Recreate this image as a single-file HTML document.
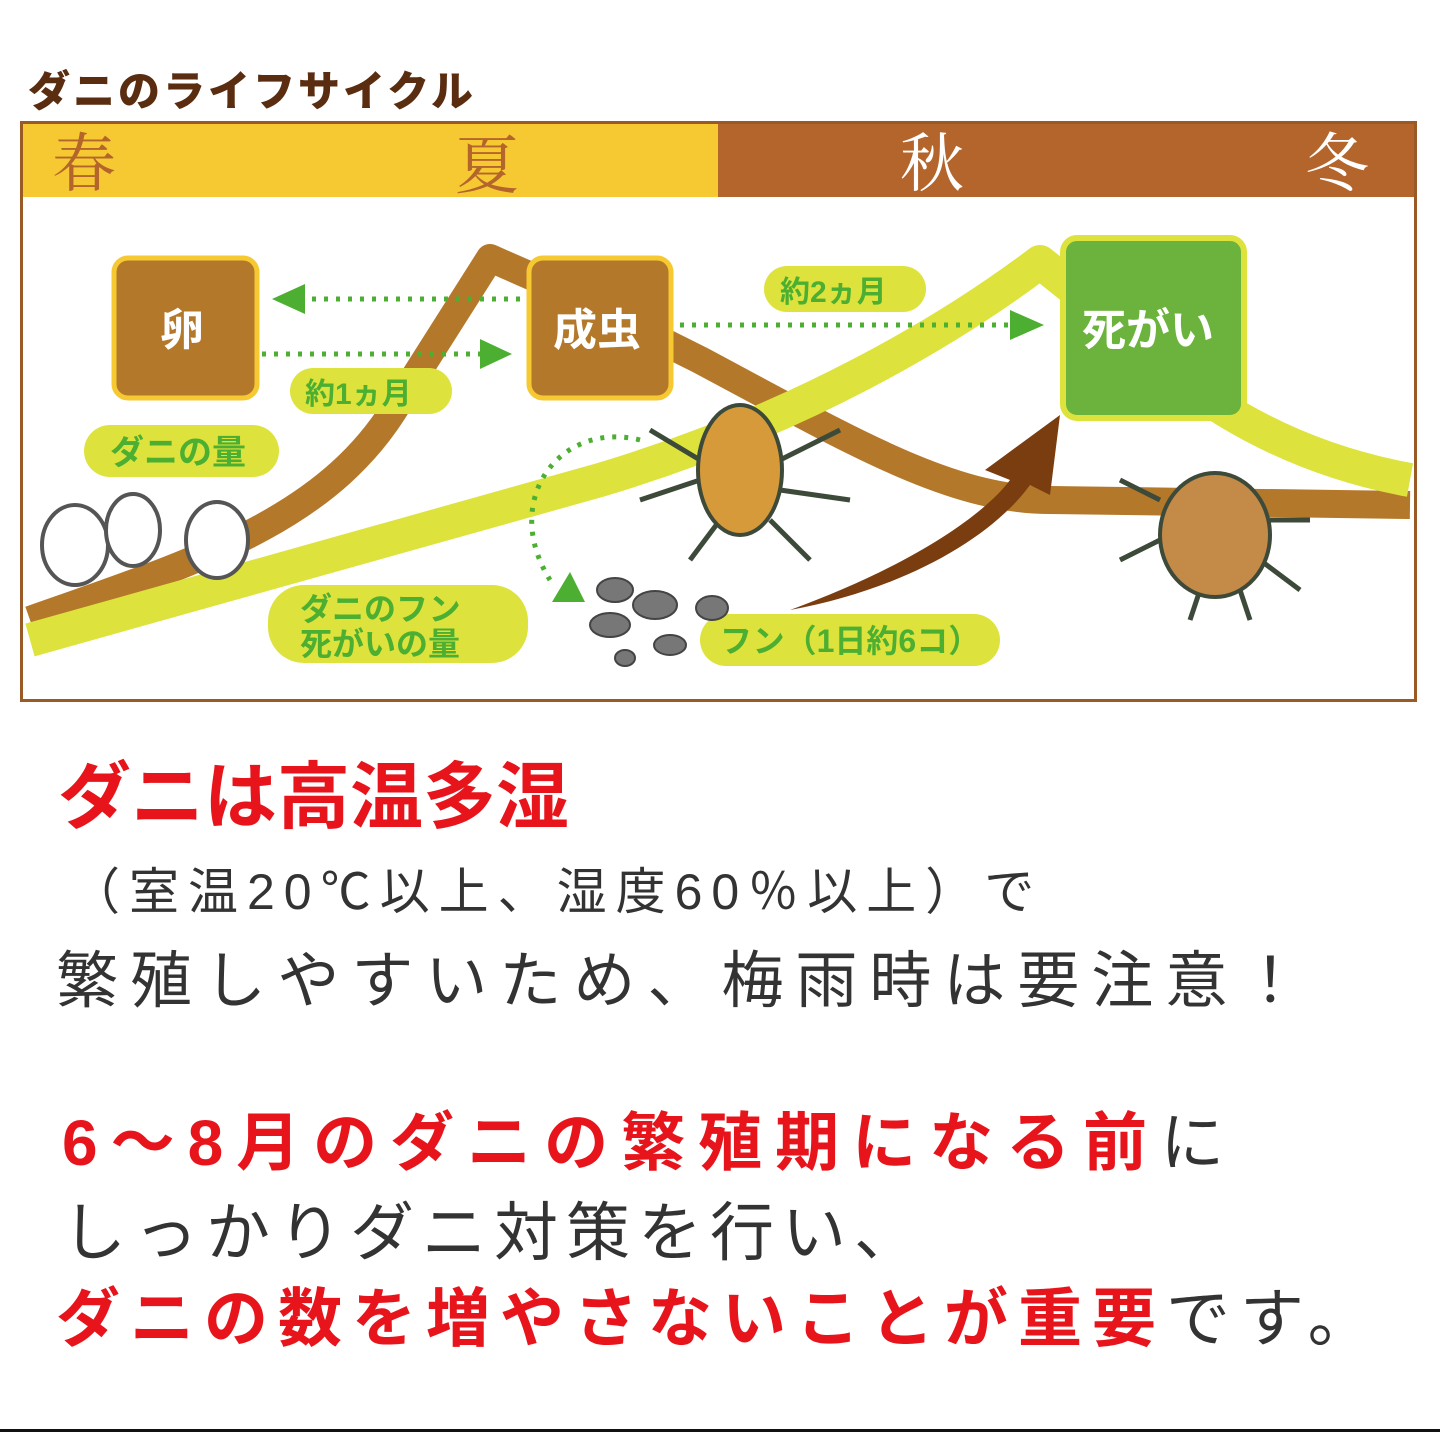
<!DOCTYPE html>
<html><head><meta charset="utf-8"><style>
body{margin:0;width:1440px;height:1432px;background:#fff;position:relative;overflow:hidden;font-family:"Liberation Sans","Noto Sans CJK JP",sans-serif}
.a{position:absolute;white-space:nowrap}
.r{color:#e8141c;font-weight:bold}
.k{color:#333}
</style></head><body>
<div class="a" style="left:28px;top:58px;font-size:42px;font-weight:900;color:#5a2d10;letter-spacing:3px">ダニのライフサイクル</div>
<svg class="a" style="left:0;top:0" width="1440" height="720">
<rect x="21.5" y="122.5" width="1394" height="578" fill="#fff" stroke="#9a5a25" stroke-width="3"/>
<rect x="23" y="124" width="695" height="73" fill="#f6c932"/>
<rect x="718" y="124" width="696" height="73" fill="#b4652c"/>
<g font-family="Liberation Serif,Noto Serif CJK SC,serif" font-size="64">
<text x="52" y="186" fill="#b4652c">春</text><text x="455" y="188" fill="#b4652c">夏</text>
<text x="900" y="186" fill="#fff">秋</text><text x="1305" y="186" fill="#fff">冬</text></g>
<path d="M30 620 C200 560 330 520 400 400 L490 258 L540 280 L700 360 C850 440 950 500 1050 500 L1410 505" fill="none" stroke="#b4782a" stroke-width="28" stroke-linejoin="round"/>
<path d="M30 640 L600 480 C800 420 950 330 1040 262 L1100 310 C1200 410 1300 460 1410 480" fill="none" stroke="#dde33c" stroke-width="34" stroke-linejoin="round"/>
<rect x="114" y="258" width="143" height="140" rx="14" fill="#b4782a" stroke="#f6c932" stroke-width="5"/>
<rect x="529" y="258" width="142" height="140" rx="14" fill="#b4782a" stroke="#f6c932" stroke-width="5"/>
<rect x="1063" y="238" width="181" height="180" rx="14" fill="#6cb33e" stroke="#dde33c" stroke-width="6"/>
<g fill="#fff" font-weight="bold" font-size="44"><text x="160" y="345">卵</text><text x="553" y="345">成虫</text><text x="1082" y="345">死がい</text></g>
<g stroke="#4caf32" stroke-width="5" stroke-dasharray="4 8" fill="none">
<path d="M300 299 H525"/><path d="M262 354 H480"/><path d="M680 325 H1010"/>
<path d="M640 440 C560 420 500 500 550 580"/></g>
<g fill="#4caf32"><polygon points="272,299 305,284 305,314"/><polygon points="512,354 480,339 480,369"/><polygon points="1044,325 1010,310 1010,340"/><polygon points="552,602 570,572 585,602"/></g>
<g fill="#dde33c"><rect x="290" y="368" width="162" height="46" rx="23"/><rect x="764" y="266" width="162" height="46" rx="23"/><rect x="84" y="425" width="195" height="52" rx="26"/><rect x="268" y="585" width="260" height="78" rx="36"/><rect x="700" y="614" width="300" height="52" rx="26"/></g>
<g fill="#4caf32" font-weight="bold"><text x="305" y="404" font-size="30">約1ヵ月</text><text x="780" y="302" font-size="30">約2ヵ月</text><text x="110" y="464" font-size="34">ダニの量</text><text x="300" y="620" font-size="32">ダニのフン</text><text x="300" y="655" font-size="32">死がいの量</text><text x="720" y="652" font-size="32">フン（1日約6コ）</text></g>
<path d="M790 610 C900 570 980 520 1010 480 L985 470 L1060 415 L1050 495 L1030 485 C990 540 900 590 790 610Z" fill="#7a3d10"/>
<g fill="#fff" stroke="#555" stroke-width="4"><ellipse cx="75" cy="545" rx="33" ry="40"/><ellipse cx="133" cy="530" rx="27" ry="36"/><ellipse cx="217" cy="540" rx="31" ry="38"/></g>
<g fill="#777" stroke="#444" stroke-width="2"><ellipse cx="615" cy="590" rx="18" ry="12"/><ellipse cx="655" cy="605" rx="22" ry="14"/><ellipse cx="610" cy="625" rx="20" ry="12"/><ellipse cx="670" cy="645" rx="16" ry="10"/><ellipse cx="712" cy="608" rx="16" ry="12"/><ellipse cx="625" cy="658" rx="10" ry="8"/></g>
<g stroke="#3d4a3a" stroke-width="5" fill="none"><path d="M700 460 L650 430 M700 480 L640 500 M780 460 L840 430 M780 490 L850 500 M720 520 L690 560 M770 520 L810 560"/><path d="M1160 500 L1120 480 M1160 540 L1120 560 M1270 520 L1310 520 M1260 560 L1300 590 M1200 590 L1190 620 M1240 590 L1250 620"/></g>
<ellipse cx="740" cy="470" rx="42" ry="65" fill="#d69a3a" stroke="#3d4a3a" stroke-width="4"/>
<ellipse cx="1215" cy="535" rx="55" ry="62" fill="#c48a48" stroke="#3d4a3a" stroke-width="4"/>
</svg>
<div class="a r" style="left:58px;top:738px;font-size:73px">ダニは高温多湿</div>
<div class="a k" style="left:70px;top:852px;font-size:50px;letter-spacing:9px">（室温20℃以上、湿度60％以上）で</div>
<div class="a k" style="left:56px;top:930px;font-size:62px;letter-spacing:12px">繁殖しやすいため、梅雨時は要注意！</div>
<div class="a" style="left:62px;top:1092px;font-size:64px;letter-spacing:13px"><span class="r">6～8月のダニの繁殖期になる前</span><span class="k">に</span></div>
<div class="a k" style="left:62px;top:1182px;font-size:64px;letter-spacing:8px">しっかりダニ対策を行い、</div>
<div class="a" style="left:56px;top:1268px;font-size:64px;letter-spacing:10px"><span class="r">ダニの数を増やさないことが重要</span><span class="k">です。</span></div>
<div class="a" style="left:0;top:1429px;width:1440px;height:3px;background:#111"></div>
</body></html>
